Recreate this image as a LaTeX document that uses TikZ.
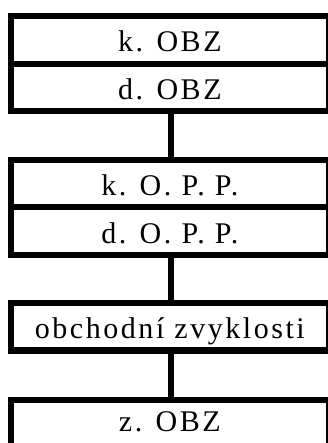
\documentclass[tikz,border=0pt]{standalone}
\usepackage{fontspec}
\setmainfont{Liberation Serif}[LetterSpace=8.5]
\begin{document}
\begin{tikzpicture}[x=1pt,y=-1pt,
  rowbox/.style={draw=black, line width=6.2pt, minimum width=318.3pt, minimum height=47.6pt,
    inner sep=0pt, font=\fontsize{30}{33}\selectfont, text height=26pt, text depth=2pt},
  lastbox/.style={rowbox, text height=16.5pt, text depth=2pt},
  link/.style={draw=black, line width=6pt}]
\useasboundingbox (0,0) rectangle (328,443);
\clip (0,0) rectangle (328,443);
\node[rowbox] (k1) at (169.85,40) {k. OBZ};
\node[rowbox] (d1) at (169.85,87.6) {d. OBZ};
\node[rowbox] (k2) at (169.85,183.5) {k. O. P. P.};
\node[rowbox] (d2) at (169.85,231.1) {d. O. P. P.};
\node[rowbox] (oz) at (169.85,326.6) {obchodní zvyklosti};
\node[lastbox] (z) at (169.85,423.8) {z. OBZ};
\draw[link] ([xshift=1.15pt]d1.south) -- ([xshift=1.15pt]k2.north);
\draw[link] ([xshift=1.15pt]d2.south) -- ([xshift=1.15pt]oz.north);
\draw[link] ([xshift=1.15pt]oz.south) -- ([xshift=1.15pt]z.north);
\end{tikzpicture}
\end{document}
